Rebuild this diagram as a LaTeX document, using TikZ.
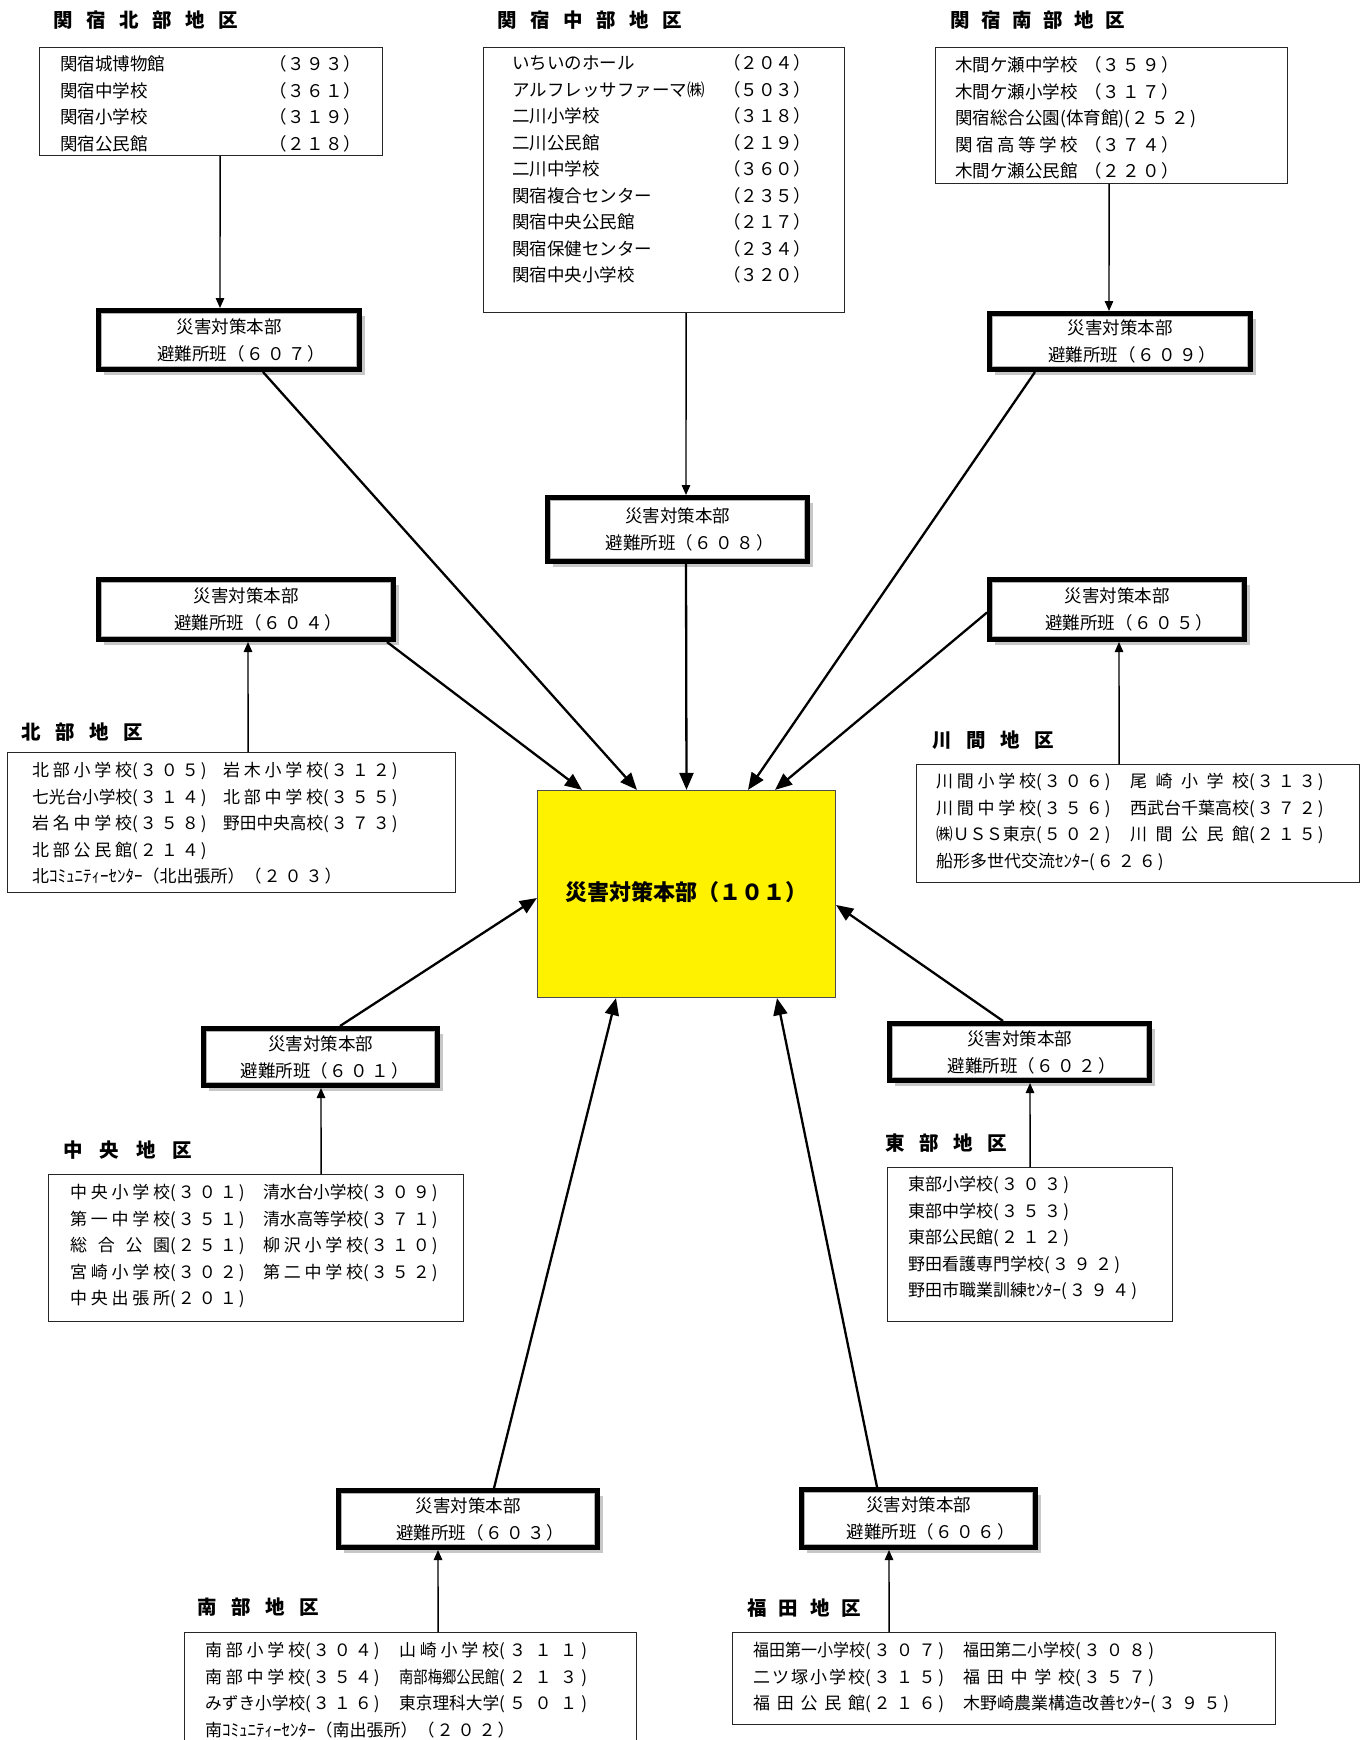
\documentclass[tikz,border=0pt]{standalone}
\usepackage{fontspec}
\setmainfont{Noto Sans CJK JP}
\usepackage{graphicx}
\usetikzlibrary{arrows.meta,shadows}

% digits set at a fixed pitch
\newcommand\numsp[2][21pt]{\def\numw{#1}\numloop#2\relax}
\def\numloop#1{\ifx\relax#1\else\makebox[\numw]{#1}\expandafter\numloop\fi}
% area headings, letters at a fixed pitch
\newcommand\areahd[2][34pt]{\def\areaw{#1}\arealoop#2\relax}
\def\arealoop#1{\ifx\relax#1\else\makebox[\areaw][l]{#1}\expandafter\arealoop\fi}
% names fitted to one width (spread out or squeezed)
\newlength\namelen
\newcommand\fitname[2][100pt]{\settowidth\namelen{#2}%
  \ifdim\namelen>#1\relax\resizebox{#1}{\height}{#2}%
  \else\makebox[#1][s]{\namespread#2\relax}\fi}
\def\namespread#1#2{#1\ifx\relax#2\else\hfil\expandafter\namespread\expandafter#2\fi}
% second line of a 避難所班 box
\newcommand\hanline[2][24pt]{\hspace*{#1}避難所班（\numsp{#2}）}

\begin{document}
\begin{tikzpicture}[x=1pt, y=-1pt,
    listbox/.style={draw=black!85, line width=1.2pt, inner sep=0pt, anchor=north west},
    listtext/.style={inner sep=0pt, anchor=base west, font=\fontsize{17}{26.5}\selectfont},
    hanbox/.style={draw, line width=5pt, fill=white, inner sep=0pt, align=center,
        font=\fontsize{17.5}{27}\selectfont,
        drop shadow={shadow xshift=5.5pt, shadow yshift=-5.5pt, opacity=1, fill=black!22},
        path picture={\draw[black!30, line width=1.2pt]
            ([shift={(3.1pt,-3.1pt)}]path picture bounding box.north west) rectangle
            ([shift={(-3.1pt,3.1pt)}]path picture bounding box.south east);}},
    area/.style={inner sep=0pt, anchor=west, font=\bfseries\fontsize{19.5}{22}\selectfont},
    feed/.style={-{Triangle[length=10pt,width=8.5pt]}, line width=1.4pt},
    main/.style={-{Triangle[length=17pt,width=14pt]}, line width=2.3pt},
]
    \path[use as bounding box, clip] (0,0) rectangle (1368,1740);

    % 関宿 areas (top row)
    \node[area] (hdSekiN) at (53,20) {\areahd[33pt]{関宿北部地区}};
    \node[listbox, minimum width=343, minimum height=108] (sekiN) at (39,47) {};
    \node[listtext, font=\fontsize{17.5}{26.5}\selectfont] (sekiNtxt) at (60,70.5) {%
      \begin{tabular}[t]{@{}p{209pt}@{}l@{}}
        関宿城博物館 & （\numsp[19pt]{３９３}）\\
        関宿中学校 & （\numsp[19pt]{３６１}）\\
        関宿小学校 & （\numsp[19pt]{３１９}）\\
        関宿公民館 & （\numsp[19pt]{２１８}）
      \end{tabular}};

    \node[area] (hdSekiC) at (497,20) {\areahd[33pt]{関宿中部地区}};
    \node[listbox, minimum width=361, minimum height=265] (sekiC) at (483,47) {};
    \node[listtext, font=\fontsize{17.5}{26.5}\selectfont] (sekiCtxt) at (512,69.5) {%
      \begin{tabular}[t]{@{}p{211pt}@{}l@{}}
        いちいのホール & （２０４）\\
        アルフレッサファーマ㈱ & （５０３）\\
        二川小学校 & （３１８）\\
        二川公民館 & （２１９）\\
        二川中学校 & （３６０）\\
        関宿複合センター & （２３５）\\
        関宿中央公民館 & （２１７）\\
        関宿保健センター & （２３４）\\
        関宿中央小学校 & （３２０）
      \end{tabular}};

    \node[area] (hdSekiS) at (950,20) {\areahd[31pt]{関宿南部地区}};
    \node[listbox, minimum width=352, minimum height=136] (sekiS) at (935,47) {};
    \node[listtext, font=\fontsize{17.5}{26.5}\selectfont] (sekiStxt) at (955,71.5) {%
      \begin{tabular}[t]{@{}l@{}}
        \makebox[129pt][l]{木間ケ瀬中学校}（\numsp[20pt]{３５９}）\\
        \makebox[129pt][l]{木間ケ瀬小学校}（\numsp[20pt]{３１７}）\\
        関宿総合公園(体育館)(\numsp[20pt]{２５２})\\
        \makebox[129pt][l]{\fitname[122.5pt]{関宿高等学校}}（\numsp[20pt]{３７４}）\\
        \makebox[129pt][l]{木間ケ瀬公民館}（\numsp[20pt]{２２０}）
      \end{tabular}};

    % 避難所班 boxes
    \node[hanbox, minimum width=261, minimum height=59] (h607) at (229,340) {災害対策本部\\\hanline{６０７}};
    \node[hanbox, minimum width=260, minimum height=64] (h608) at (677.5,529.5) {災害対策本部\\\hanline{６０８}};
    \node[hanbox, minimum width=261, minimum height=56] (h609) at (1120,341.5) {災害対策本部\\\hanline{６０９}};
    \node[hanbox, minimum width=295, minimum height=60] (h604) at (246,609.5) {災害対策本部\\\hanline{６０４}};
    \node[hanbox, minimum width=255, minimum height=60] (h605) at (1117,609.5) {災害対策本部\\\hanline{６０５}};
    \node[hanbox, minimum width=234, minimum height=57] (h601) at (320.5,1057) {災害対策本部\\\hanline[8pt]{６０１}};
    \node[hanbox, minimum width=260, minimum height=57] (h602) at (1019.5,1052) {災害対策本部\\\hanline{６０２}};
    \node[hanbox, minimum width=259, minimum height=57] (h603) at (468,1519) {災害対策本部\\\hanline{６０３}};
    \node[hanbox, minimum width=234, minimum height=58] (h606) at (918.5,1518.5) {災害対策本部\\\hanline{６０６}};

    % 本部
    \node[draw=black!70, line width=1.2pt, fill=yellow, minimum width=298, minimum height=207,
          font=\bfseries\fontsize{22}{26}\selectfont] (hq101) at (686.5,894) {\raisebox{7pt}{災害対策本部（１０１）}};

    % middle areas
    \node[area] (hdKita) at (21,732) {\areahd{北部地区}};
    \node[listbox, minimum width=448, minimum height=140] (kita) at (7,752) {};
    \node[listtext] (kitaTxt) at (32,776.5) {%
      \begin{tabular}[t]{@{}p{191pt}@{}l@{}}
        \fitname{北部小学校}(\numsp{３０５}) & \fitname{岩木小学校}(\numsp{３１２})\\
        \fitname{七光台小学校}(\numsp{３１４}) & \fitname{北部中学校}(\numsp{３５５})\\
        \fitname{岩名中学校}(\numsp{３５８}) & \fitname{野田中央高校}(\numsp{３７３})\\
        \fitname{北部公民館}(\numsp{２１４}) & \\
        \multicolumn{2}{@{}l@{}}{北ｺﾐｭﾆﾃｨｰｾﾝﾀｰ（北出張所）（\numsp{２０３}）}
      \end{tabular}};

    \node[area] (hdKawama) at (932,740) {\areahd{川間地区}};
    \node[listbox, minimum width=443, minimum height=118] (kawama) at (916,764) {};
    \node[listtext] (kawamaTxt) at (936,787.5) {%
      \begin{tabular}[t]{@{}p{194pt}@{}l@{}}
        \fitname{川間小学校}(\numsp{３０６}) & \fitname[119pt]{尾崎小学校}(\numsp{３１３})\\
        \fitname{川間中学校}(\numsp{３５６}) & \fitname[119pt]{西武台千葉高校}(\numsp{３７２})\\
        \fitname{㈱ＵＳＳ東京}(\numsp{５０２}) & \fitname[119pt]{川間公民館}(\numsp{２１５})\\
        \multicolumn{2}{@{}l@{}}{船形多世代交流ｾﾝﾀｰ(\numsp{６２６})}
      \end{tabular}};

    \node[area] (hdChuo) at (63,1150) {\areahd[36.5pt]{中央地区}};
    \node[listbox, minimum width=415, minimum height=147] (chuo) at (48,1174) {};
    \node[listtext] (chuoTxt) at (70,1198.5) {%
      \begin{tabular}[t]{@{}p{193pt}@{}l@{}}
        \fitname{中央小学校}(\numsp{３０１}) & \fitname{清水台小学校}(\numsp{３０９})\\
        \fitname{第一中学校}(\numsp{３５１}) & \fitname{清水高等学校}(\numsp{３７１})\\
        \fitname{総合公園}(\numsp{２５１}) & \fitname{柳沢小学校}(\numsp{３１０})\\
        \fitname{宮崎小学校}(\numsp{３０２}) & \fitname{第二中学校}(\numsp{３５２})\\
        \fitname{中央出張所}(\numsp{２０１}) &
      \end{tabular}};

    \node[area] (hdTobu) at (885,1143) {\areahd{東部地区}};
    \node[listbox, minimum width=285, minimum height=154] (tobu) at (887,1167) {};
    \node[listtext] (tobuTxt) at (908,1190.5) {%
      \begin{tabular}[t]{@{}l@{}}
        東部小学校(\numsp[21.5pt]{３０３})\\
        東部中学校(\numsp[21.5pt]{３５３})\\
        東部公民館(\numsp[21.5pt]{２１２})\\
        野田看護専門学校(\numsp[21.5pt]{３９２})\\
        野田市職業訓練ｾﾝﾀｰ(\numsp[21.5pt]{３９４})
      \end{tabular}};

    % bottom areas
    \node[area] (hdNanbu) at (197,1607) {\areahd{南部地区}};
    \node[listbox, minimum width=452, minimum height=130] (nanbu) at (184,1632) {};
    \node[listtext] (nanbuTxt) at (205,1656.5) {%
      \begin{tabular}[t]{@{}p{194pt}@{}l@{}}
        \fitname{南部小学校}(\numsp{３０４}) & \fitname{山崎小学校}(\numsp[25.5pt]{３１１})\\
        \fitname{南部中学校}(\numsp{３５４}) & \fitname{南部梅郷公民館}(\numsp[25.5pt]{２１３})\\
        \fitname{みずき小学校}(\numsp{３１６}) & \fitname{東京理科大学}(\numsp[25.5pt]{５０１})\\
        \multicolumn{2}{@{}l@{}}{南ｺﾐｭﾆﾃｨｰｾﾝﾀｰ（南出張所）（\numsp{２０２}）}
      \end{tabular}};

    \node[area] (hdFukuda) at (747,1608) {\areahd[31.5pt]{福田地区}};
    \node[listbox, minimum width=543, minimum height=92] (fukuda) at (732,1632) {};
    \node[listtext] (fukudaTxt) at (753,1656.5) {%
      \begin{tabular}[t]{@{}p{210pt}@{}l@{}}
        \fitname[112pt]{福田第一小学校}(\numsp[22.5pt]{３０７}) & \fitname[112pt]{福田第二小学校}(\numsp[22.5pt]{３０８})\\
        \fitname[112pt]{二ツ塚小学校}(\numsp[22.5pt]{３１５}) & \fitname[112pt]{福田中学校}(\numsp[22.5pt]{３５７})\\
        \fitname[112pt]{福田公民館}(\numsp[22.5pt]{２１６}) & 木野崎農業構造改善ｾﾝﾀｰ(\numsp[22.5pt]{３９５})
      \end{tabular}};

    % areas to 避難所班
    \draw[feed] ([xshift=9]sekiN.south) -- ([xshift=-9]h607.north);
    \draw[feed] ([xshift=22]sekiC.south) -- ([xshift=8.5]h608.north);
    \draw[feed] ([xshift=-2.5]sekiS.south) -- ([xshift=-11]h609.north);
    \draw[feed] ([xshift=16.5]kita.north) -- ([xshift=2]h604.south);
    \draw[feed] ([xshift=-19]kawama.north) -- ([xshift=2]h605.south);
    \draw[feed] ([xshift=65]chuo.north) -- ([xshift=0.5]h601.south);
    \draw[feed] (tobu.north) -- ([xshift=10.5]h602.south);
    \draw[feed] ([xshift=27.5]nanbu.north) -- ([xshift=-30]h603.south);
    \draw[feed] ([xshift=-115]fukuda.north) -- ([xshift=-29.5]h606.south);

    % 避難所班 to 本部
    \draw[main] ([xshift=34]h607.south) -- ([xshift=-49.5]hq101.north);
    \draw[main] ([xshift=141]h604.south) -- ([xshift=-104.5]hq101.north);
    \draw[main] ([xshift=8.5]h608.south) -- (hq101.north);
    \draw[main] ([xshift=-85]h609.south) -- ([xshift=61.5]hq101.north);
    \draw[main] ([yshift=-3]h605.west) -- ([xshift=88.5]hq101.north);
    \draw[main] ([xshift=19.5]h601.north) -- ([yshift=-4]hq101.west);
    \draw[main] ([xshift=-16.5]h602.north) -- ([yshift=-11]hq101.east);
    \draw[main] ([xshift=26]h603.north) -- ([xshift=-70.5]hq101.south);
    \draw[main] ([xshift=-41.5]h606.north) -- ([xshift=90.5]hq101.south);
\end{tikzpicture}
\end{document}
